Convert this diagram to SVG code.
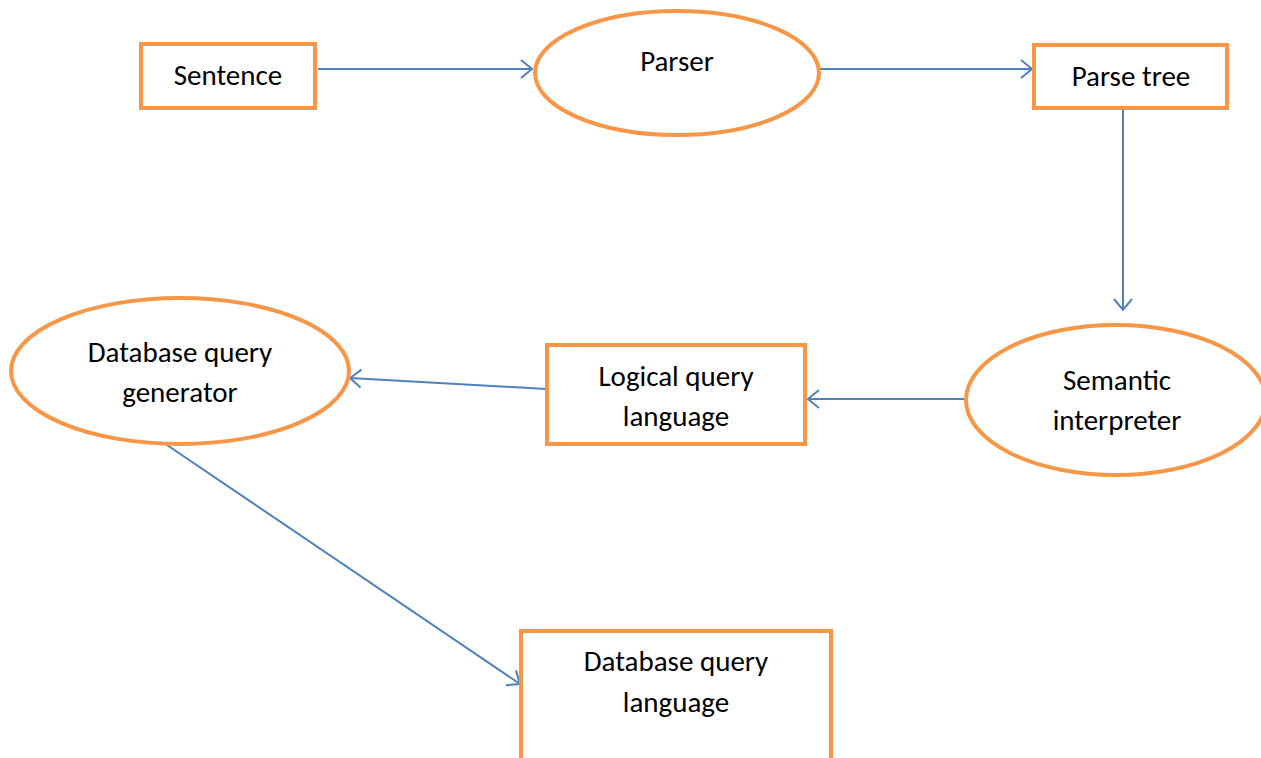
<svg xmlns="http://www.w3.org/2000/svg" width="1261" height="758" viewBox="0 0 1261 758">
<defs>
<style>
.box{fill:#fff;stroke:#F79646;stroke-width:4}
.t{font-family:Carlito,Lato,"Liberation Sans",sans-serif;font-size:29px;fill:#000;text-anchor:middle}
.c{stroke:#4F81BD;stroke-width:2;fill:none}
</style>
<marker id="a" markerWidth="16" markerHeight="22" refX="14" refY="11" orient="auto" markerUnits="userSpaceOnUse">
<path d="M3,2 L14,11 L3,20" fill="none" stroke="#4F81BD" stroke-width="2"/>
</marker>
</defs>
<rect width="1261" height="758" fill="#fff"/>
<g id="connectors">
<line class="c" x1="318" y1="69" x2="532" y2="69" marker-end="url(#a)"/>
<line class="c" x1="820" y1="69" x2="1032" y2="69" marker-end="url(#a)"/>
<line class="c" x1="1123" y1="110" x2="1123" y2="310" marker-end="url(#a)"/>
<line class="c" x1="965" y1="399" x2="808" y2="399" marker-end="url(#a)"/>
<line class="c" x1="546" y1="389" x2="350" y2="378" marker-end="url(#a)"/>
<line class="c" x1="167" y1="445" x2="520" y2="684" marker-end="url(#a)"/>
</g>
<g id="sentence">
<rect class="box" x="141" y="44" width="174" height="64"/>
<text class="t" x="228" y="85">Sentence</text>
</g>
<g id="parser">
<ellipse class="box" cx="677" cy="73" rx="142" ry="62"/>
<text class="t" x="677" y="71">Parser</text>
</g>
<g id="parse-tree">
<rect class="box" x="1034" y="45" width="193" height="63"/>
<text class="t" x="1131" y="86">Parse tree</text>
</g>
<g id="semantic-interpreter">
<ellipse class="box" cx="1116" cy="400" rx="150" ry="75"/>
<text class="t" x="1117" y="390">Semantic</text>
<text class="t" x="1117" y="430">interpreter</text>
</g>
<g id="logical-query-language">
<rect class="box" x="547" y="345" width="258" height="99"/>
<text class="t" x="676" y="386">Logical query</text>
<text class="t" x="676" y="426">language</text>
</g>
<g id="database-query-generator">
<ellipse class="box" cx="180" cy="371" rx="169" ry="73"/>
<text class="t" x="180" y="362">Database query</text>
<text class="t" x="180" y="402">generator</text>
</g>
<g id="database-query-language">
<rect class="box" x="521" y="631" width="310" height="140"/>
<text class="t" x="676" y="671">Database query</text>
<text class="t" x="676" y="712">language</text>
</g>
</svg>
